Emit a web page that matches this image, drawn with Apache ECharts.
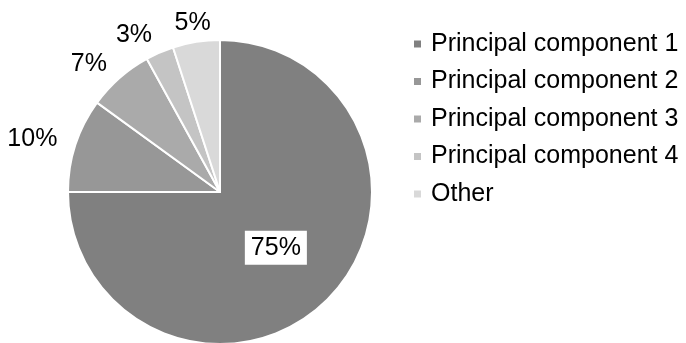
<!DOCTYPE html>
<html>
<head>
<meta charset="utf-8">
<script src="https://cdn.jsdelivr.net/npm/echarts@6/dist/echarts.min.js"></script>
<style>
html,body{margin:0;padding:0;background:#fff;}
#chart{width:686px;height:343px;}
</style>
</head>
<body>
<div id="chart"></div>
<script>
const categories = ['Principal component 1', 'Principal component 2', 'Principal component 3', 'Principal component 4', 'Other'];
const values = [75, 10, 7, 3, 5];
const colors = ['#808080', '#979797', '#aaaaaa', '#c4c4c4', '#d9d9d9'];

const chart = echarts.init(document.getElementById('chart'), null, {renderer: 'canvas'});
const font = 'Liberation Sans, Arial, sans-serif';
const CENTER = [220, 192];
const RADIUS = 152;
const LABEL_OFFSET = 19;

const data = categories.map((name, i) => {
  const d = {name: name, value: values[i], itemStyle: {color: colors[i]}};
  if (i === 0) {
    d.label = {
      position: 'inside',
      backgroundColor: '#ffffff',
      padding: [5, 6, 4, 6],
      color: '#000'
    };
  }
  return d;
});

// Outside labels: anchored just beyond the slice edge at the slice's mid angle
// (read from ECharts' own pie layout); text hangs away from the pie horizontally,
// and is centred when the slice points nearly straight up or down.
function labelLayout(params) {
  if (params.dataIndex === 0) return {};
  let lay = null;
  try {
    lay = chart.getModel().getSeriesByIndex(0).getData().getItemLayout(params.dataIndex);
  } catch (e) { lay = null; }
  if (!lay) return {};
  const mid = (lay.startAngle + lay.endAngle) / 2;
  const ux = Math.cos(mid), uy = Math.sin(mid);
  const R = lay.r + LABEL_OFFSET;
  const ax = lay.cx + R * ux, ay = lay.cy + R * uy;
  const w = params.labelRect.width;
  const t = Math.max(0, Math.min(1, (Math.abs(ux) - 0.15) / 0.2));
  return {
    x: ax + Math.sign(ux) * (w / 2) * t,
    y: ay,
    align: 'center',
    verticalAlign: 'middle'
  };
}

chart.setOption({
  animation: false,
  legend: {
    orient: 'vertical',
    left: 412,
    top: 31,
    padding: 0,
    itemWidth: 9,
    itemHeight: 9,
    itemGap: 11.5,
    icon: 'rect',
    textStyle: {fontFamily: font, fontSize: 25, lineHeight: 26, color: '#000', padding: [0, 0, 0, 4]},
    data: categories
  },
  series: [{
    type: 'pie',
    center: CENTER,
    radius: [0, RADIUS],
    startAngle: 90,
    clockwise: true,
    avoidLabelOverlap: false,
    itemStyle: {borderColor: '#fff', borderWidth: 2},
    label: {
      show: true,
      position: 'outside',
      formatter: '{c}%',
      fontFamily: font,
      fontSize: 25,
      color: '#000'
    },
    labelLine: {show: false},
    labelLayout: labelLayout,
    data: data
  }]
});
</script>
</body>
</html>
